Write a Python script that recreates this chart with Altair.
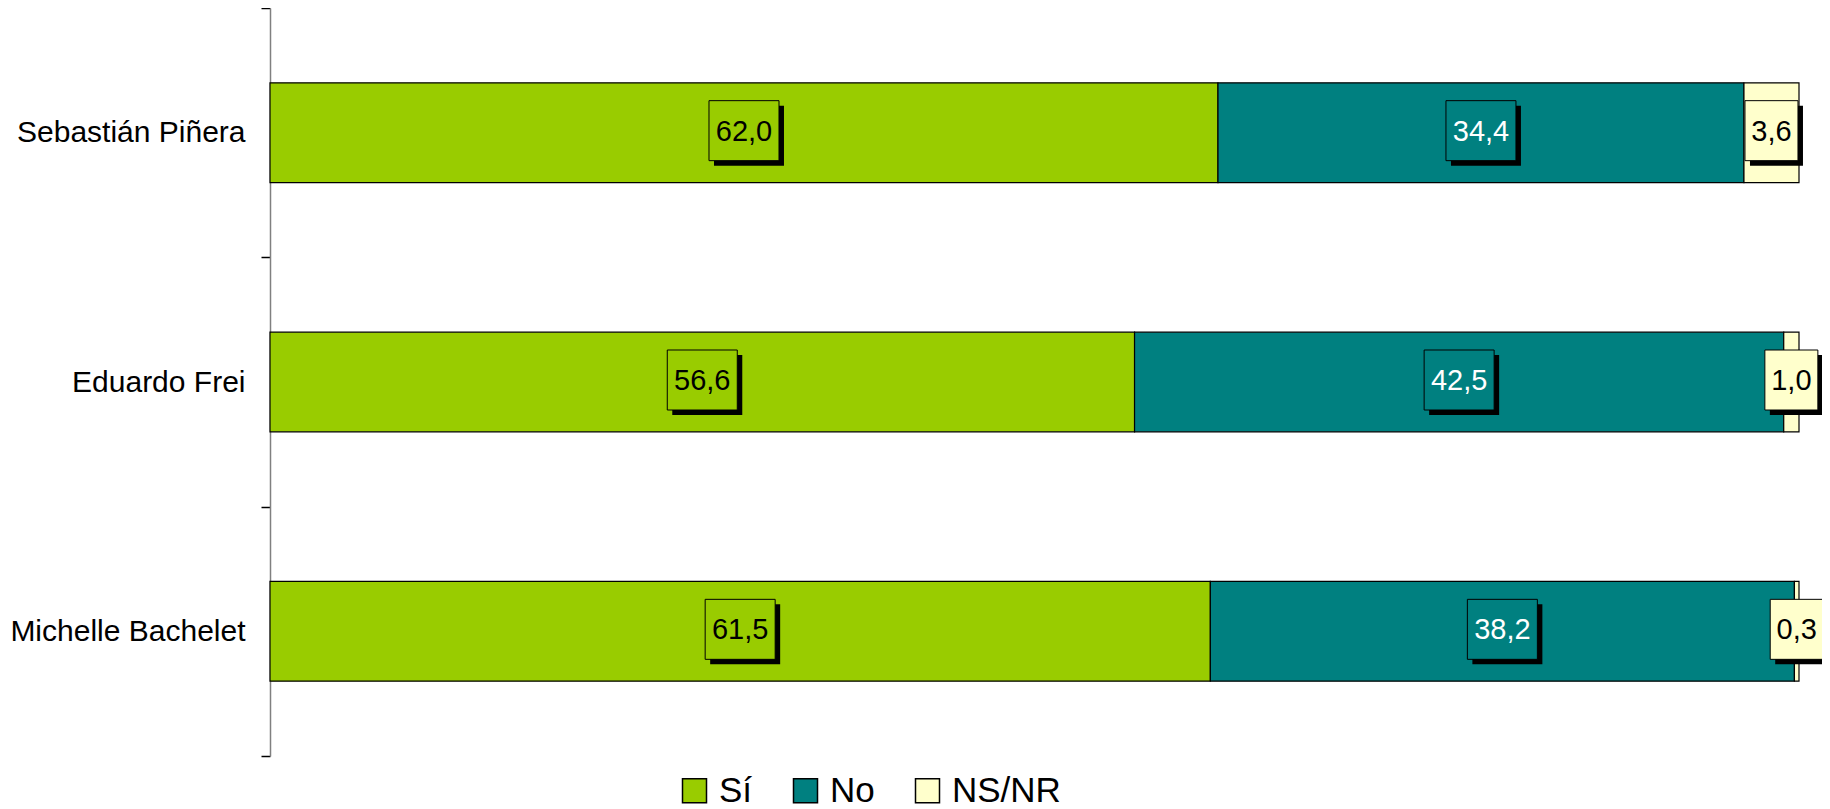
import altair as alt
import pandas as pd

candidates = ["Sebastián Piñera", "Eduardo Frei", "Michelle Bachelet"]
series = ["Sí", "No", "NS/NR"]
si_values = [62.0, 56.6, 61.5]
no_values = [34.4, 42.5, 38.2]
nsnr_values = [3.6, 1.0, 0.3]
colors = ["#99CC00", "#008080", "#FFFFCC"]

rows = []
for i, c in enumerate(candidates):
    for j, (s, vals) in enumerate(zip(series, [si_values, no_values, nsnr_values])):
        rows.append({"candidate": c, "series": s, "value": vals[i], "order": j,
                     "label": f"{vals[i]:.1f}".replace(".", ",")})
df = pd.DataFrame(rows)

LABEL_FONT = "Liberation Sans, Arial, sans-serif"

base = alt.Chart(df).transform_stack(
    stack="value", groupby=["candidate"], as_=["v0", "v1"],
    sort=[alt.SortField("order", order="ascending")], offset="normalize"
).transform_calculate(
    mid="(datum.v0 + datum.v1) / 2",
    w="(17 * length(datum.label) + 2) / 60",
).transform_calculate(
    path="'M' + (-datum.w) + ',-1L' + datum.w + ',-1L' + datum.w + ',1L' + (-datum.w) + ',1Z'"
)

yscale = alt.Scale(paddingInner=0, paddingOuter=0)
yaxis = alt.Axis(tickBand="extent", tickSize=9, tickColor="black",
                 domainColor="#808080", domainWidth=1.5, tickWidth=1.5,
                 grid=False,
                 labelFont=LABEL_FONT, labelFontSize=30, labelColor="black",
                 labelPadding=16, labelLimit=400)
yenc = alt.Y("candidate:N", sort=candidates, title=None, scale=yscale, axis=yaxis)
xscale = alt.Scale(domain=[0, 1], nice=False, zero=True)
x_mid = alt.X("mid:Q", scale=xscale, axis=None)

bars = base.mark_bar(stroke="black", strokeWidth=1.2, height={"band": 0.4}).encode(
    x=alt.X("v0:Q", scale=xscale, axis=None),
    x2="v1:Q",
    y=yenc,
    color=alt.Color("series:N", scale=alt.Scale(domain=series, range=colors),
                    sort=series,
                    legend=alt.Legend(title=None, orient="none", direction="horizontal",
                                      legendX=407, legendY=765, columns=3,
                                      symbolType="square", symbolSize=576,
                                      symbolStrokeColor="black", symbolStrokeWidth=1.5,
                                      symbolOpacity=1,
                                      labelFont=LABEL_FONT, labelFontSize=35,
                                      labelColor="black", labelOffset=7,
                                      columnPadding=35, labelLimit=300)),
)

shadow = base.mark_point(filled=True, size=3600, opacity=1, color="black",
                         xOffset=5, yOffset=3).encode(
    x=x_mid, y=yenc,
    shape=alt.Shape("path:N", scale=None),
)

boxes = base.mark_point(filled=True, size=3600, opacity=1, stroke="black",
                        strokeWidth=1, yOffset=-2).encode(
    x=x_mid, y=yenc,
    shape=alt.Shape("path:N", scale=None),
    fill=alt.Fill("series:N", scale=alt.Scale(domain=series, range=colors), legend=None),
)

texts = base.mark_text(font="Liberation Sans", fontSize=29, baseline="middle",
                       align="center", dy=-1).encode(
    x=x_mid, y=yenc,
    text="label:N",
    color=alt.condition(alt.datum.series == "No", alt.value("white"), alt.value("black")),
)

chart = alt.layer(bars, shadow, boxes, texts).properties(
    width=1529, height=748,
    background="white",
    autosize=alt.AutoSizeParams(type="none"),
    padding={"left": 262, "top": 0, "right": 23, "bottom": 53},
).configure_view(stroke="transparent", strokeWidth=0)

chart.save("out.html", embed_options={"renderer": "svg", "actions": False})
